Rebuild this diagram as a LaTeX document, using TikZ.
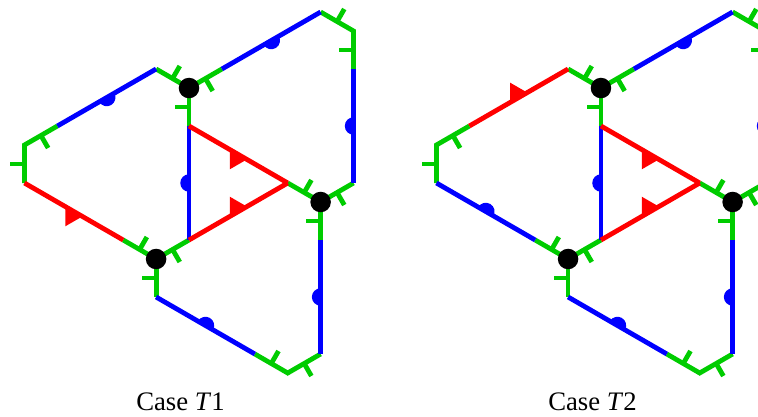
\documentclass[tikz,border=0pt]{standalone}
\usepackage{fontspec}
\setmainfont{Liberation Serif}
\usetikzlibrary{calc}
\definecolor{grn}{RGB}{0,204,0}
\tikzset{
  gline/.style={draw=grn, line width=1.8pt},
  bline/.style={draw=blue, line width=1.8pt},
  rline/.style={draw=red, line width=1.8pt},
  dot/.style={circle, fill=black, inner sep=0pt, minimum size=0.27cm},
  caption/.style={anchor=base, font=\fontsize{10}{12}\selectfont},
}
\newcommand\tickarm[2]{%
  \draw[gline] ($(#1)+(#2:0.5)$) -- ++(#2-90:0.19cm);}
\newcommand\halfdisc[2]{%
  \fill[blue] ($(#1)+(#2+90:0.115cm)$) arc[start angle=#2+90, end angle=#2-90, radius=0.115cm] -- cycle;}
\newcommand\flagtri[2]{%
  \fill[red] ($(#1)+(#2+90:0.13cm)$) -- ($(#1)+(#2-90:0.13cm)$) -- ($(#1)+(#2:0.225cm)$) -- cycle;}
\newcommand\casepic[3]{%
\begin{scope}[xshift=#2*0.5cm]
  \coordinate (#1A) at (0,0);
  \coordinate (#1P1) at (0,-1);
  \coordinate (#1P2) at (0,-4);
  \coordinate (#1P3) at (2.598,-2.5);
  \coordinate (#1B) at (3.464,-3);
  \coordinate (#1C) at (-0.866,-4.5);
  \coordinate (#1L1) at (-0.866,0.5);
  \coordinate (#1L1b) at (-3.464,-1);
  \coordinate (#1L2) at (-4.330,-1.5);
  \coordinate (#1L3) at (-4.330,-2.5);
  \coordinate (#1L3b) at (-1.732,-4);
  \coordinate (#1R1a) at (0.866,0.5);
  \coordinate (#1R1) at (3.464,2);
  \coordinate (#1R2) at (4.330,1.5);
  \coordinate (#1R2b) at (4.330,0.5);
  \coordinate (#1R3) at (4.330,-2.5);
  \coordinate (#1Bb) at (3.464,-4);
  \coordinate (#1B1) at (3.464,-7);
  \coordinate (#1B2) at (2.598,-7.5);
  \coordinate (#1B2b) at (1.732,-7);
  \coordinate (#1B3) at (-0.866,-5.5);
  % green arms
  \draw[gline] (#1L1) -- (#1A) -- (#1R1a); \draw[gline] (#1A) -- (#1P1);
  \draw[gline] (#1P3) -- (#1B) -- (#1R3); \draw[gline] (#1B) -- (#1Bb);
  \draw[gline] (#1L3b) -- (#1C) -- (#1P2); \draw[gline] (#1C) -- (#1B3);
  \draw[gline] (#1L1b) -- (#1L2) -- (#1L3);
  \draw[gline] (#1R1) -- (#1R2) -- (#1R2b);
  \draw[gline] (#1B2b) -- (#1B2) -- (#1B1);
  % ticks
  \tickarm{#1A}{-90}\tickarm{#1A}{150}\tickarm{#1A}{30}
  \tickarm{#1B}{150}\tickarm{#1B}{30}\tickarm{#1B}{-90}
  \tickarm{#1C}{30}\tickarm{#1C}{150}\tickarm{#1C}{-90}
  \tickarm{#1L2}{30}\tickarm{#1L2}{-90}
  \tickarm{#1R2}{150}\tickarm{#1R2}{-90}
  \tickarm{#1B2}{150}\tickarm{#1B2}{30}
  % coloured edges
  \coordinate (#1m1) at ($(#1L1)!0.5!(#1L1b)$);
  \coordinate (#1m2) at ($(#1L3)!0.5!(#1L3b)$);
  \ifnum#3=1
    \draw[bline] (#1L1) -- (#1L1b); \halfdisc{#1m1}{300}
    \draw[rline] (#1L3) -- (#1L3b); \flagtri{#1m2}{240}
  \else
    \draw[rline] (#1L1) -- (#1L1b); \flagtri{#1m1}{120}
    \draw[bline] (#1L3) -- (#1L3b); \halfdisc{#1m2}{60}
  \fi
  \draw[bline] (#1P1) -- (#1P2); \halfdisc{$(#1P1)!0.5!(#1P2)$}{180}
  \draw[rline] (#1P1) -- (#1P3); \flagtri{$(#1P1)!0.5!(#1P3)$}{240}
  \draw[rline] (#1P2) -- (#1P3); \flagtri{$(#1P2)!0.5!(#1P3)$}{120}
  \draw[bline] (#1R1a) -- (#1R1); \halfdisc{$(#1R1a)!0.5!(#1R1)$}{300}
  \draw[bline] (#1R2b) -- (#1R3); \halfdisc{$(#1R2b)!0.5!(#1R3)$}{180}
  \draw[bline] (#1Bb) -- (#1B1); \halfdisc{$(#1Bb)!0.5!(#1B1)$}{180}
  \draw[bline] (#1B3) -- (#1B2b); \halfdisc{$(#1B3)!0.5!(#1B2b)$}{60}
  % vertices
  \node[dot] (#1dotA) at (#1A) {};
  \node[dot] (#1dotB) at (#1B) {};
  \node[dot] (#1dotC) at (#1C) {};
  \node[caption] (#1cap) at (-0.224,-8.474) {Case \textit{T}#3};
\end{scope}}
\begin{document}
\begin{tikzpicture}[x=0.5cm,y=0.5cm]
  \useasboundingbox (-4.974,-8.632) rectangle (14.974,2.316);
  \clip (-4.974,-8.632) rectangle (14.974,2.316);
  \casepic{a}{0}{1}
  \casepic{b}{10.842}{2}
\end{tikzpicture}
\end{document}
